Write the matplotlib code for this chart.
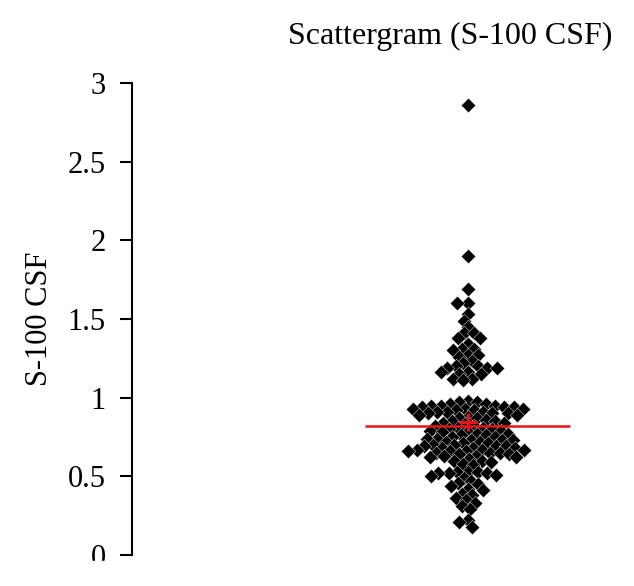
import numpy as np
import matplotlib
matplotlib.use("Agg")
import matplotlib.pyplot as plt
from matplotlib.patches import Rectangle

# S-100 CSF values
s100 = [
    2.86, 1.90, 1.69, 1.60, 1.60, 1.53, 1.49, 1.45, 1.41, 1.41,
    1.38, 1.38, 1.34, 1.31, 1.31, 1.30, 1.27, 1.27, 1.26, 1.23,
    1.22, 1.20, 1.20, 1.19, 1.19, 1.19, 1.16, 1.16, 1.15, 1.15,
    1.12, 1.12, 1.11,
    0.98, 0.97, 0.97, 0.96, 0.96, 0.95, 0.95, 0.95, 0.94, 0.94,
    0.94, 0.93, 0.93, 0.93, 0.92, 0.92, 0.91, 0.91, 0.91, 0.90,
    0.90, 0.90, 0.89, 0.89, 0.88, 0.87, 0.87, 0.86, 0.85, 0.85,
    0.84, 0.84, 0.83, 0.82, 0.82, 0.81, 0.81, 0.80, 0.80, 0.79,
    0.79, 0.78, 0.78, 0.77, 0.77, 0.76, 0.76, 0.75, 0.75, 0.74,
    0.74, 0.73, 0.73, 0.73, 0.72, 0.72, 0.71, 0.71, 0.70, 0.70,
    0.69, 0.69, 0.69, 0.68, 0.68, 0.68, 0.67, 0.67, 0.67, 0.66,
    0.66, 0.66, 0.65, 0.65, 0.65, 0.64, 0.64, 0.63, 0.63, 0.62,
    0.62, 0.61, 0.60, 0.60, 0.59, 0.58, 0.57, 0.53, 0.53, 0.53,
    0.52, 0.52, 0.52, 0.51, 0.50, 0.49, 0.47, 0.46, 0.45, 0.44,
    0.42, 0.41, 0.39, 0.38, 0.36, 0.35, 0.33, 0.31, 0.29, 0.22,
    0.21, 0.18,
]
median_line = 0.82   # red horizontal line
mean_mark = 0.845    # red cross
yticks = [0, 0.5, 1, 1.5, 2, 2.5, 3]
yticklabels = ["0", "0.5", "1", "1.5", "2", "2.5", "3"]


def diamond_swarm(vals, ppu_x, ppu_y, d):
    # place diamonds left/right of the centre, packing them by L1 distance in pixels
    ys = np.asarray(vals) * ppu_y
    xs = np.zeros(len(ys))
    placed = []
    for i in np.argsort(-ys):
        y = ys[i]
        near = [(xj, yj) for xj, yj in placed if abs(yj - y) < d]
        cands = [0.0]
        for xj, yj in near:
            gap = d - abs(yj - y)
            cands += [xj - gap, xj + gap]
        cands.sort(key=lambda c: (abs(c), c))
        for c in cands:
            if all(abs(c - xj) + abs(y - yj) >= d - 1e-6 for xj, yj in near):
                xs[i] = c
                break
        placed.append((xs[i], y))
    return xs / ppu_x


plt.rcParams['font.family'] = ['Liberation Serif', 'DejaVu Serif']

fig = plt.figure(figsize=(6.34, 5.86), dpi=100)
ax = fig.add_axes([132 / 634, 31 / 586, 468 / 634, 472 / 586])
xlim = (-1, 0.393)
ylim = (0, 3)

xoff = diamond_swarm(s100, 468 / (xlim[1] - xlim[0]), 472 / (ylim[1] - ylim[0]), 10.5)
ax.scatter(xoff, s100, marker='D', s=7.4 ** 2, color='black',
           edgecolors='white', linewidths=0.3, zorder=2)

ax.hlines(median_line, -0.305, 0.305, color='#e8141c', lw=1.8, zorder=3)
ax.plot([0], [mean_mark], marker='+', color='#e8141c', ms=13, mew=2.2, zorder=4)

ax.set_xlim(*xlim)
ax.set_ylim(*ylim)
ax.set_yticks(yticks)
ax.set_yticklabels(yticklabels)
ax.set_xticks([])
for side in ['top', 'right', 'bottom']:
    ax.spines[side].set_visible(False)
ax.spines['left'].set_linewidth(1.5)
ax.tick_params(axis='y', direction='out', length=9, width=1.5, pad=10, labelsize=22)
ax.set_ylabel("S-100 CSF", fontsize=22, labelpad=10)

fig.text(450 / 634, 1 - 44 / 586, "Scattergram (S-100 CSF)", ha='center',
         va='baseline', fontsize=23)

# the original panel is cut just under the axis
fig.patches.append(Rectangle((0, 0), 1, 25 / 586, transform=fig.transFigure,
                             color='white', zorder=10))

fig.savefig("out.png", dpi=100)
